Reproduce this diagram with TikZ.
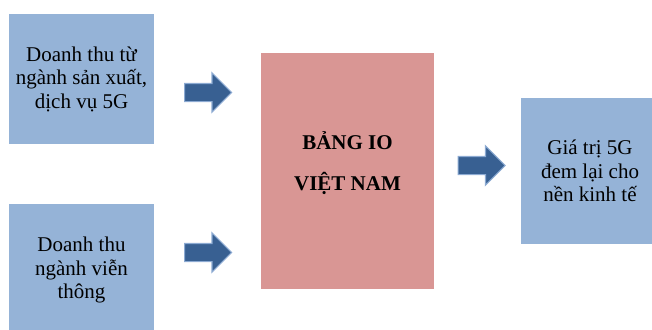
\documentclass[tikz,border=0pt]{standalone}
\usepackage{fontspec}
\setmainfont{Liberation Serif}
\usetikzlibrary{shapes.arrows}
\definecolor{boxblue}{RGB}{149,179,215}
\definecolor{boxred}{RGB}{217,150,148}
\definecolor{arrowfill}{RGB}{56,96,146}
\definecolor{arrowline}{RGB}{140,170,210}
\tikzset{
  bluebox/.style={fill=boxblue, draw=none, inner sep=0pt, align=center,
    font=\fontsize{21}{23.5}\selectfont},
  redbox/.style={fill=boxred, draw=none, inner sep=0pt},
  titletext/.style={align=center, inner sep=0pt, font=\bfseries\fontsize{21}{41}\selectfont},
  blockarrow/.style={single arrow, fill=arrowfill, draw=arrowline, line width=1.2pt,
    inner sep=0pt, text height=8.5pt, text depth=8.5pt, text width=0pt,
    single arrow head extend=10.5pt, single arrow head indent=0pt,
    minimum height=47pt, anchor=tail},
}
\begin{document}
\begin{tikzpicture}[x=1pt,y=-1pt]
\useasboundingbox (0,0) rectangle (652,329);
\clip (0,0) rectangle (652,329);
% boxes
\node[bluebox, minimum width=145pt, minimum height=130pt] (rev5g) at (81.5,79) {Doanh thu từ\\ngành sản xuất,\\dịch vụ 5G};
\node[bluebox, minimum width=145pt, minimum height=132pt] (revtel) at (81.5,270) {Doanh thu\\ngành viễn\\thông};
\node[redbox, minimum width=173pt, minimum height=236pt] (io) at (347.5,171) {};
\node[titletext] (iotext) at (347.5,163) {BẢNG IO\\VIỆT NAM};
\node[bluebox, minimum width=138pt, minimum height=146pt] (value) at (590,171) {Giá trị 5G\\đem lại cho\\nền kinh tế};
% arrows
\node[blockarrow] (a1) at (184,92.5) {};
\node[blockarrow] (a2) at (184,252.5) {};
\node[blockarrow] (a3) at (457.5,165.5) {};
\end{tikzpicture}
\end{document}
